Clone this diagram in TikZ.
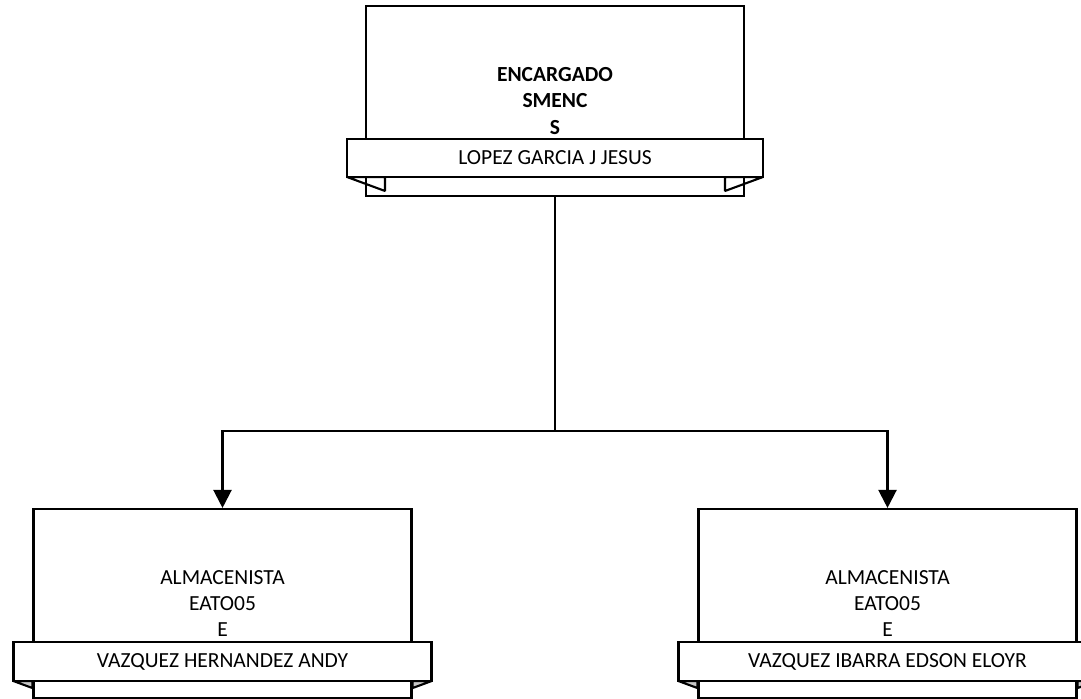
\documentclass[tikz,border=0pt]{standalone}
\usepackage{fontspec}
\setmainfont{Carlito}
\usetikzlibrary{arrows.meta}

\tikzset{
  puesto/.style={draw, line width=1.5pt, minimum width=9.45cm, minimum height=4.725cm,
    align=center, inner sep=0pt, font=\fontsize{15.3}{18.7}\selectfont},
  nombre/.style={draw, fill=white, line width=1.5pt, minimum width=10.45cm,
    minimum height=0.975cm, inner sep=0pt, font=\fontsize{15.3}{18.7}\selectfont},
  pestana/.style={draw, line width=1.5pt, line join=bevel},
  linea/.style={line width=1.6pt},
  flecha/.style={linea, -{Triangle[width=0.45cm,length=0.45cm]}},
}

\begin{document}
\begin{tikzpicture}
  \useasboundingbox (0,0) rectangle (27.025,17.475);

  % encargado
  \node[puesto, minimum height=4.75cm] (enc) at (13.875,14.95)
    {\textbf{ENCARGADO}\\\textbf{SMENC}\\\textbf{S}};
  \coordinate (encsw) at (8.675,13.05);
  \coordinate (encse) at (19.075,13.05);
  \draw[pestana] (encsw) -- ++(0.95,0) -- ++(0,-0.35) -- cycle;
  \draw[pestana] (encse) -- ++(-0.95,0) -- ++(0,-0.35) -- cycle;
  \node[nombre, minimum width=10.4cm, minimum height=0.95cm] (encnom) at (13.875,13.525)
    {LOPEZ GARCIA J JESUS};

  % almacenistas
  \node[puesto] (alm1) at (5.5625,2.3875) {ALMACENISTA\\EATO05\\E};
  \node[puesto] (alm2) at (22.1875,2.3875) {ALMACENISTA\\EATO05\\E};
  \foreach \a in {alm1, alm2} {
    \filldraw[pestana, fill=black!22] (\a.south west) ++(-0.475,0.45) -- ++(0.475,0)
      -- ++(0,-0.175) -- cycle;
    \filldraw[pestana, fill=black!22] (\a.south east) ++(0.475,0.45) -- ++(-0.475,0)
      -- ++(0,-0.175) -- cycle;
  }
  \node[nombre] (alm1nom) at (5.5625,0.9375) {VAZQUEZ HERNANDEZ ANDY};
  \node[nombre] (alm2nom) at (22.1875,0.9375) {VAZQUEZ IBARRA EDSON ELOYR};

  % conectores
  \coordinate (split) at (13.875,6.7);
  \draw[linea] (enc.south) -- (split);
  \draw[flecha] (split) -| (alm1.north);
  \draw[flecha] (split) -| (alm2.north);
\end{tikzpicture}
\end{document}
